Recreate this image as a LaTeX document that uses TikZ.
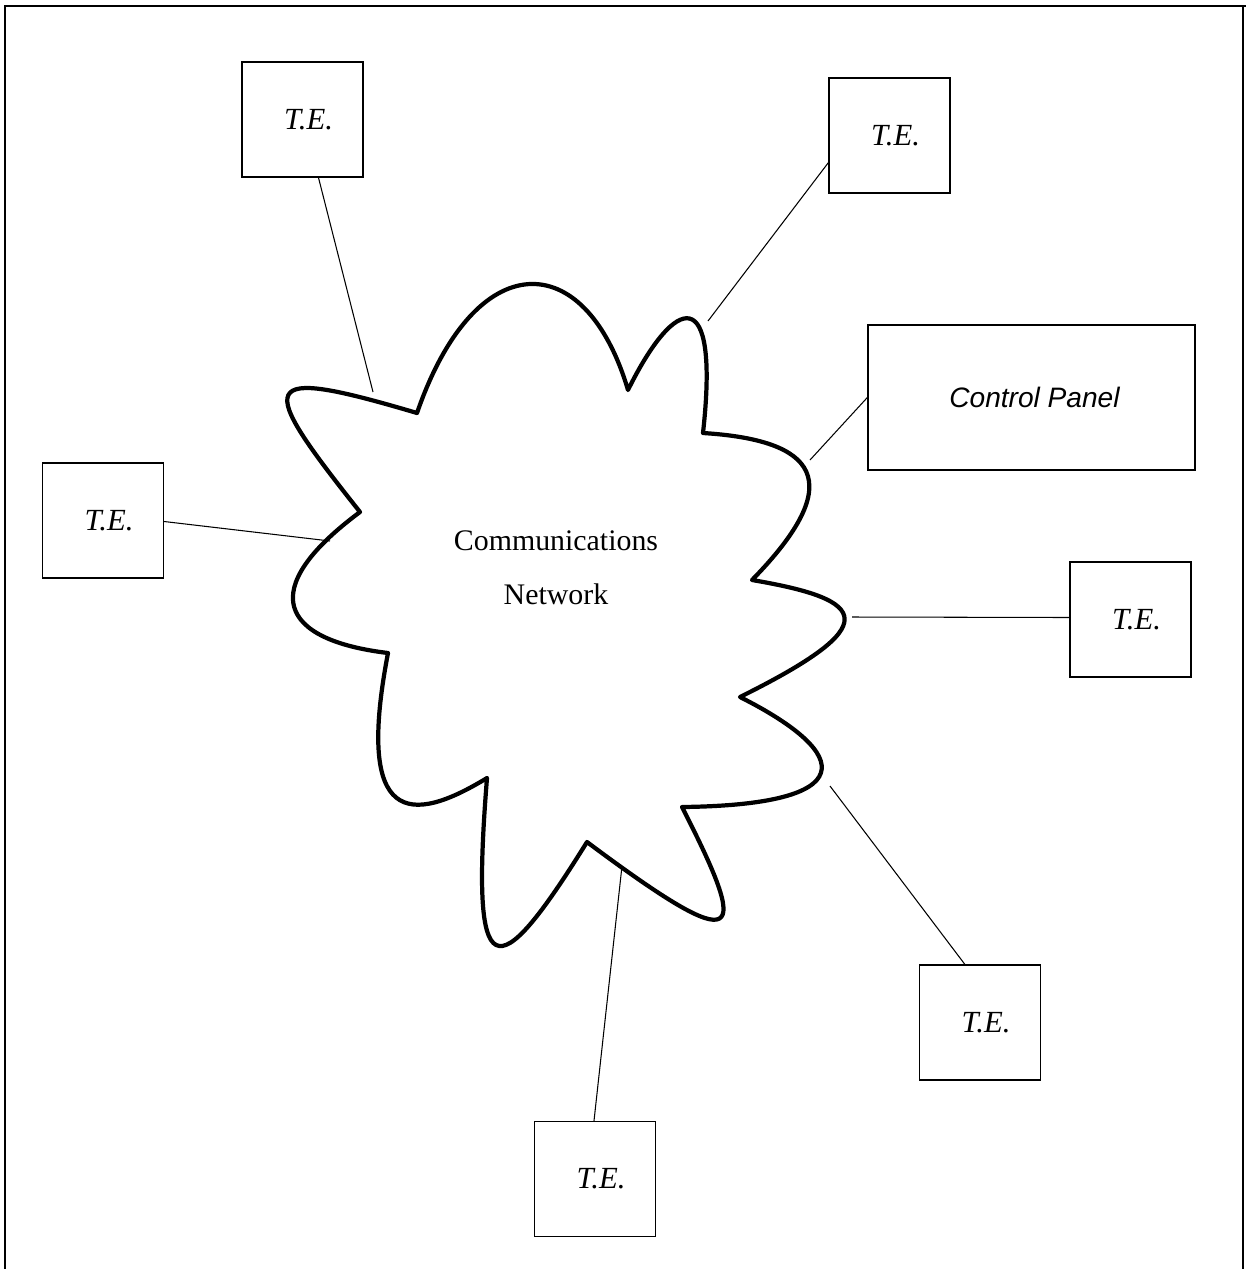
\documentclass[tikz,border=0pt]{standalone}
\usepackage{fontspec}
\setmainfont{Liberation Serif}
\setsansfont{Liberation Sans}
\begin{document}
\begin{tikzpicture}[x=0.02cm,y=-0.02cm,
  tebox/.style={draw,line width=0.8pt,minimum width=2.42cm,minimum height=2.3cm,inner sep=0pt,font=\fontsize{17.5pt}{20pt}\selectfont\itshape},
  link/.style={line width=0.6pt},
  cloudline/.style={line width=2.4pt,line join=round}]
\useasboundingbox (0,0) rectangle (1246,1269);
% frame
\draw[line width=1pt] (5,1269) -- (5,6) -- (1246,6);
\draw[line width=0.8pt] (1243,6) -- (1243,1269);
% cloud
\draw[cloudline]
  (417,413) .. controls (475,245) and (585,245) .. (628,390)
  .. controls (675,295) and (720,280) .. (703,433)
  .. controls (815,440) and (850,480) .. (752,580)
  .. controls (870,600) and (885,625) .. (740,697)
  .. controls (855,755) and (860,805) .. (682,807)
  .. controls (750,940) and (745,960) .. (587,842)
  .. controls (495,990) and (470,990) .. (487,778)
  .. controls (410,825) and (355,825) .. (388,653)
  .. controls (280,640) and (255,590) .. (360,512)
  .. controls (255,380) and (255,365) .. cycle;
\node[align=center,font=\fontsize{17pt}{30.6pt}\selectfont] (net) at (556,568) {Communications\\Network};
% boxes
\node[tebox] (te1) at (302.5,119.5) {\hspace*{0.24cm}T.E.};
\node[tebox] (te2) at (889.5,135.5) {\hspace*{0.24cm}T.E.};
\node[draw,line width=0.8pt,minimum width=6.54cm,minimum height=2.9cm,inner sep=0pt,font=\sffamily\itshape\fontsize{16pt}{19pt}\selectfont] (cp) at (1031.5,397.5) {\hspace*{0.12cm}Control Panel};
\node[tebox] (te3) at (103,520.5) {\hspace*{0.24cm}T.E.};
\node[tebox] (te4) at (1130.5,619.5) {\hspace*{0.24cm}T.E.};
\node[tebox] (te5) at (980,1022.5) {\hspace*{0.24cm}T.E.};
\node[tebox] (te6) at (595,1179) {\hspace*{0.24cm}T.E.};
% attachment points on the cloud
\coordinate (a1) at (373,392);
\coordinate (a2) at (708,321);
\coordinate (a3) at (810,460);
\coordinate (a4) at (330,541);
\coordinate (a5) at (852,617);
\coordinate (a6) at (830,786);
\coordinate (a7) at (622,866);
% connectors
\draw[link] (te1.south) ++(16,0) coordinate (t1) (t1) -- (a1);
\draw[link] (te2.south west) ++(0,-31) coordinate (t2) (t2) -- (a2);
\draw[link] (cp.west) coordinate (t3) (t3) -- (a3);
\draw[link] (te3.east) ++(0,1) coordinate (t4) (t4) -- (a4);
\draw[link] (te4.west) ++(0,-2) coordinate (t5) (t5) -- (a5);
\draw[link] (te5.north west) ++(46,0) coordinate (t6) (t6) -- (a6);
\draw[link] (te6.north) ++(-1,0) coordinate (t7) (t7) -- (a7);
\end{tikzpicture}
\end{document}
